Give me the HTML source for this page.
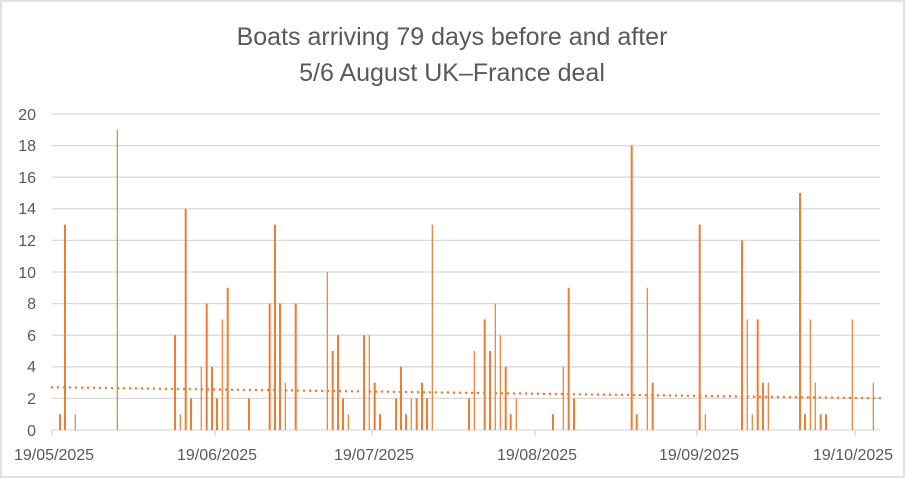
<!DOCTYPE html>
<html><head><meta charset="utf-8"><style>body{margin:0;background:#fff}svg{display:block}</style></head><body>
<svg width="905" height="479" xmlns="http://www.w3.org/2000/svg" font-family="Liberation Sans, sans-serif">
<rect x="1" y="1" width="903" height="476" fill="#fff" stroke="#d9d9d9" stroke-width="1.5"/>
<text x="452" y="45" font-size="25" fill="#595959" text-anchor="middle">Boats arriving 79 days before and after</text>
<text x="452" y="81" font-size="25" fill="#595959" text-anchor="middle">5/6 August UK–France deal</text>
<g stroke="#d9d9d9" stroke-width="1.3">
<line x1="52" x2="880" y1="114" y2="114"/><line x1="52" x2="880" y1="145.6" y2="145.6"/><line x1="52" x2="880" y1="177.2" y2="177.2"/><line x1="52" x2="880" y1="208.8" y2="208.8"/><line x1="52" x2="880" y1="240.4" y2="240.4"/><line x1="52" x2="880" y1="272" y2="272"/><line x1="52" x2="880" y1="303.6" y2="303.6"/><line x1="52" x2="880" y1="335.2" y2="335.2"/><line x1="52" x2="880" y1="366.8" y2="366.8"/><line x1="52" x2="880" y1="398.4" y2="398.4"/><line x1="52" x2="880" y1="430" y2="430"/>
<line x1="52" x2="52" y1="430" y2="436"/><line x1="215" x2="215" y1="430" y2="436"/><line x1="372" x2="372" y1="430" y2="436"/><line x1="535" x2="535" y1="430" y2="436"/><line x1="697" x2="697" y1="430" y2="436"/><line x1="855" x2="855" y1="430" y2="436"/>
</g>
<g font-size="16" fill="#595959" text-anchor="end">
<text x="36" y="120">20</text><text x="36" y="151">18</text><text x="36" y="183">16</text><text x="36" y="214">14</text><text x="36" y="246">12</text><text x="36" y="278">10</text><text x="36" y="309">8</text><text x="36" y="341">6</text><text x="36" y="372">4</text><text x="36" y="404">2</text><text x="36" y="436">0</text>
</g>
<g font-size="16" fill="#595959" text-anchor="middle">
<text x="54" y="460">19/05/2025</text><text x="217" y="460">19/06/2025</text><text x="374" y="460">19/07/2025</text><text x="537" y="460">19/08/2025</text><text x="699" y="460">19/09/2025</text><text x="853" y="460">19/10/2025</text>
</g>
<g fill="#ed7d31">
<rect x="59" y="414.2" width="2" height="15.8"/>
<rect x="64" y="224.6" width="2" height="205.4"/>
<rect x="74.7" y="414.2" width="1.2" height="15.8"/>
<rect x="116.7" y="129.8" width="1.2" height="300.2"/>
<rect x="174" y="335.2" width="2" height="94.8"/>
<rect x="179.7" y="414.2" width="1.2" height="15.8"/>
<rect x="184.7" y="208.8" width="2" height="221.2"/>
<rect x="190" y="398.4" width="2" height="31.6"/>
<rect x="200.7" y="366.8" width="1.2" height="63.2"/>
<rect x="205.7" y="303.6" width="2" height="126.4"/>
<rect x="211" y="366.8" width="2" height="63.2"/>
<rect x="216" y="398.4" width="2" height="31.6"/>
<rect x="221.7" y="319.4" width="1.2" height="110.6"/>
<rect x="226.7" y="287.8" width="2" height="142.2"/>
<rect x="248" y="398.4" width="2" height="31.6"/>
<rect x="268.7" y="303.6" width="2" height="126.4"/>
<rect x="274" y="224.6" width="2" height="205.4"/>
<rect x="279" y="303.6" width="2" height="126.4"/>
<rect x="284.7" y="382.6" width="1.2" height="47.4"/>
<rect x="294.7" y="303.6" width="2" height="126.4"/>
<rect x="326.7" y="272" width="1.2" height="158"/>
<rect x="331.7" y="351" width="2" height="79"/>
<rect x="337" y="335.2" width="2" height="94.8"/>
<rect x="342" y="398.4" width="2" height="31.6"/>
<rect x="347.7" y="414.2" width="1.2" height="15.8"/>
<rect x="363" y="335.2" width="2" height="94.8"/>
<rect x="368.7" y="335.2" width="1.2" height="94.8"/>
<rect x="373.7" y="382.6" width="2" height="47.4"/>
<rect x="379" y="414.2" width="2" height="15.8"/>
<rect x="395" y="398.4" width="2" height="31.6"/>
<rect x="400" y="366.8" width="2" height="63.2"/>
<rect x="405" y="414.2" width="2" height="15.8"/>
<rect x="410.7" y="398.4" width="1.2" height="31.6"/>
<rect x="415.7" y="398.4" width="2" height="31.6"/>
<rect x="421" y="382.6" width="2" height="47.4"/>
<rect x="426" y="398.4" width="2" height="31.6"/>
<rect x="431.7" y="224.6" width="1.2" height="205.4"/>
<rect x="468" y="398.4" width="2" height="31.6"/>
<rect x="473.7" y="351" width="1.2" height="79"/>
<rect x="483.7" y="319.4" width="2" height="110.6"/>
<rect x="489" y="351" width="2" height="79"/>
<rect x="494.7" y="303.6" width="1.2" height="126.4"/>
<rect x="499.7" y="335.2" width="1.2" height="94.8"/>
<rect x="504.7" y="366.8" width="2" height="63.2"/>
<rect x="509.7" y="414.2" width="2" height="15.8"/>
<rect x="515.7" y="398.4" width="1.2" height="31.6"/>
<rect x="552" y="414.2" width="2" height="15.8"/>
<rect x="562.7" y="366.8" width="1.2" height="63.2"/>
<rect x="567.7" y="287.8" width="2" height="142.2"/>
<rect x="573" y="398.4" width="2" height="31.6"/>
<rect x="630.7" y="145.6" width="2" height="284.4"/>
<rect x="635.7" y="414.2" width="2" height="15.8"/>
<rect x="646.7" y="287.8" width="1.2" height="142.2"/>
<rect x="651.7" y="382.6" width="2" height="47.4"/>
<rect x="698.7" y="224.6" width="2" height="205.4"/>
<rect x="704.7" y="414.2" width="1.2" height="15.8"/>
<rect x="741" y="240.4" width="2" height="189.6"/>
<rect x="746.7" y="319.4" width="1.2" height="110.6"/>
<rect x="751.7" y="414.2" width="1.2" height="15.8"/>
<rect x="756.7" y="319.4" width="2" height="110.6"/>
<rect x="762" y="382.6" width="2" height="47.4"/>
<rect x="767.7" y="382.6" width="1.2" height="47.4"/>
<rect x="799" y="193" width="2" height="237"/>
<rect x="804" y="414.2" width="2" height="15.8"/>
<rect x="809.7" y="319.4" width="1.2" height="110.6"/>
<rect x="814.7" y="382.6" width="1.2" height="47.4"/>
<rect x="819.7" y="414.2" width="2" height="15.8"/>
<rect x="825" y="414.2" width="2" height="15.8"/>
<rect x="851.7" y="319.4" width="1.2" height="110.6"/>
<rect x="872.7" y="382.6" width="1.2" height="47.4"/>
</g>
<line x1="52" y1="387.3" x2="880" y2="398.3" stroke="#ed7d31" stroke-width="2.5" stroke-dasharray="0.1 5.9" stroke-linecap="round"/>
</svg>
</body></html>
